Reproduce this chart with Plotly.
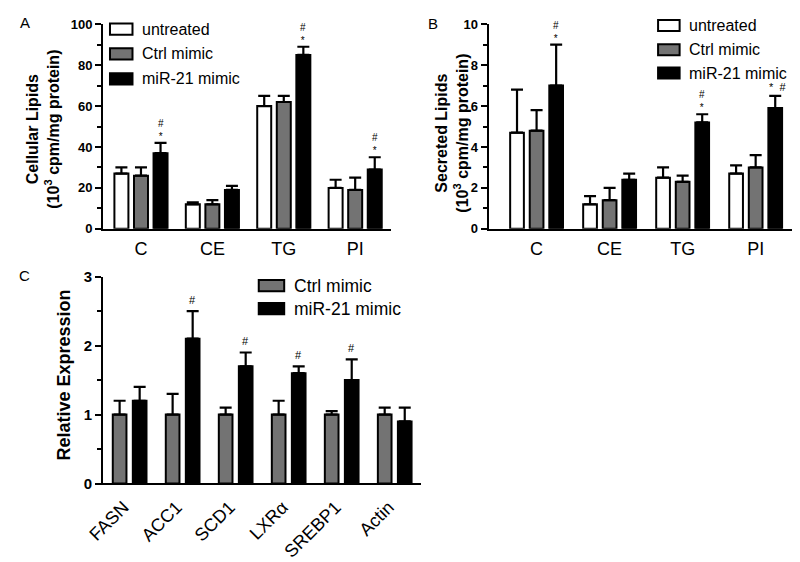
import plotly.graph_objects as go

W, H = 800, 562
FONT = "Liberation Sans"

# ---------------- data ----------------
lipid_classes = ["C", "CE", "TG", "PI"]
series_ab = ["untreated", "Ctrl mimic", "miR-21 mimic"]

cellular_untreated = [27, 12, 60, 20]
cellular_untreated_sem = [3, 1, 5, 4]
cellular_ctrl = [26, 12, 62, 19]
cellular_ctrl_sem = [4, 2, 3, 6]
cellular_mir21 = [37, 19, 85, 29]
cellular_mir21_sem = [5, 2, 4, 6]
cellular_sig = ["*#", "", "*#", "*#"]

secreted_untreated = [4.7, 1.2, 2.5, 2.7]
secreted_untreated_sem = [2.1, 0.4, 0.5, 0.4]
secreted_ctrl = [4.8, 1.4, 2.3, 3.0]
secreted_ctrl_sem = [1.0, 0.6, 0.3, 0.6]
secreted_mir21 = [7.0, 2.4, 5.2, 5.9]
secreted_mir21_sem = [2.0, 0.3, 0.4, 0.6]
secreted_sig = ["*#", "", "*#", "* #"]

genes = ["FASN", "ACC1", "SCD1", "LXRα", "SREBP1", "Actin"]
series_c = ["Ctrl mimic", "miR-21 mimic"]
expr_ctrl = [1.0, 1.0, 1.0, 1.0, 1.0, 1.0]
expr_ctrl_sem = [0.2, 0.3, 0.1, 0.2, 0.05, 0.1]
expr_mir21 = [1.2, 2.1, 1.7, 1.6, 1.5, 0.9]
expr_mir21_sem = [0.2, 0.4, 0.2, 0.1, 0.3, 0.2]
expr_sig = ["", "#", "#", "#", "#", ""]

# ---------------- style ----------------
COLORS = {"untreated": "white", "Ctrl mimic": "#737373", "miR-21 mimic": "black"}


def px(x):
    return x / W


def py(y):
    return 1 - y / H


fig = go.Figure()
annotations = []
shapes = []


def add_panel(idx, cats, names, vals, errs, slot, bw, sig):
    xa = "x" if idx == 1 else f"x{idx}"
    ya = "y" if idx == 1 else f"y{idx}"
    n = len(names)
    xs = list(range(len(cats)))
    tickpos = []
    for k, name in enumerate(names):
        c_off = (k - (n - 1) / 2) * slot
        fig.add_trace(go.Bar(
            x=xs, y=vals[k], name=name, xaxis=xa, yaxis=ya,
            offset=c_off - bw / 2, width=bw,
            marker=dict(color=COLORS[name], line=dict(color="black", width=2)),
            error_y=dict(type="data", symmetric=False, array=errs[k],
                         arrayminus=[0] * len(xs), color="black",
                         thickness=2.2, width=6),
            showlegend=False, hoverinfo="skip",
        ))
    for i in xs:
        for k in range(n):
            tickpos.append(i + (k - (n - 1) / 2) * slot)
    # significance marks over last series
    last = n - 1
    c_off = (last - (n - 1) / 2) * slot
    for i, s in enumerate(sig):
        if not s:
            continue
        top = vals[last][i] + errs[last][i]
        base = dict(xref=xa, yref=ya, x=i + c_off, y=top, showarrow=False,
                    xanchor="center", yanchor="bottom")
        if s == "*#":
            annotations.append({**base, "text": "#<br>*", "yshift": -1,
                                "font": dict(family=FONT, size=10, color="black")})
        elif s == "* #":
            annotations.append({**base, "text": "*\u00a0\u00a0#", "yshift": 1,
                                "xshift": 2,
                                "font": dict(family=FONT, size=11, color="black")})
        elif s == "#":
            annotations.append({**base, "text": "#", "yshift": 3,
                                "font": dict(family=FONT, size=11, color="black")})
    return tickpos


tick_a = add_panel(1, lipid_classes, series_ab,
                   [cellular_untreated, cellular_ctrl, cellular_mir21],
                   [cellular_untreated_sem, cellular_ctrl_sem, cellular_mir21_sem],
                   0.274, 0.196, cellular_sig)
tick_b = add_panel(2, lipid_classes, series_ab,
                   [secreted_untreated, secreted_ctrl, secreted_mir21],
                   [secreted_untreated_sem, secreted_ctrl_sem, secreted_mir21_sem],
                   0.268, 0.188, secreted_sig)
tick_c = add_panel(3, genes, series_c,
                   [expr_ctrl, expr_mir21],
                   [expr_ctrl_sem, expr_mir21_sem],
                   0.378, 0.258, expr_sig)

LINE_W = 2.3


def yaxis_style(domain, rng, dtick, minor_dtick, size):
    return dict(domain=domain, range=rng, showgrid=False, zeroline=False,
                showline=True, linecolor="black", linewidth=LINE_W,
                ticks="outside", ticklen=6, tickwidth=2, tickcolor="black",
                dtick=dtick, tick0=0,
                minor=dict(ticks="outside", ticklen=4, tickwidth=2,
                           tickcolor="black", dtick=minor_dtick, tick0=0),
                tickfont=dict(family=FONT, size=size, color="black", weight="bold"),
                fixedrange=True)


def xaxis_label_style(domain, rng, cats, anchor, size, angle=0, tlen=2, shift=0):
    return dict(domain=domain, range=rng, anchor=anchor, showgrid=False,
                zeroline=False, showline=True, linecolor="black",
                linewidth=LINE_W, ticks="outside", ticklen=tlen,
                tickcolor="rgba(0,0,0,0)", tickmode="array",
                tickvals=list(range(len(cats))), ticktext=cats,
                tickangle=angle, ticklabelshift=shift,
                tickfont=dict(family=FONT, size=size, color="black"),
                fixedrange=True)


def xaxis_tick_style(over, rng, anchor, vals):
    return dict(overlaying=over, range=rng, anchor=anchor, showgrid=False,
                zeroline=False, showline=False, ticks="outside", ticklen=7,
                tickwidth=2, tickcolor="black", tickmode="array",
                tickvals=vals, showticklabels=False, fixedrange=True)


dom_top = [py(226.7), py(15.7)]
dom_bot = [py(489.3), py(276)]
rng_a = [-0.53, 3.5]
rng_b = [-0.655, 3.5]
rng_c = [-0.5, 5.5]

fig.update_layout(
    width=W, height=H, autosize=False,
    margin=dict(l=0, r=0, t=0, b=0),
    paper_bgcolor="white", plot_bgcolor="white",
    barmode="overlay", showlegend=False,
    xaxis=xaxis_label_style([px(88), px(382)], rng_a, lipid_classes, "y", 18),
    yaxis=yaxis_style(dom_top, [0, 100], 20, 10, 13) | dict(anchor="x"),
    xaxis2=xaxis_label_style([px(482), px(792)], rng_b, lipid_classes, "y2", 18),
    yaxis2=yaxis_style(dom_top, [0, 10], 2, 1, 13) | dict(anchor="x2"),
    xaxis3=xaxis_label_style([px(88), px(413)], rng_c, genes, "y3", 18, -45, 4, -6),
    yaxis3=yaxis_style(dom_bot, [0, 3], 1, 0.5, 15) | dict(anchor="x3"),
    xaxis4=xaxis_tick_style("x", rng_a, "y", tick_a),
    xaxis5=xaxis_tick_style("x2", rng_b, "y2", tick_b),
    xaxis6=xaxis_tick_style("x3", rng_c, "y3", tick_c),
)

# y-axis titles
title_font = dict(family=FONT, size=16, color="black")
annotations.append(dict(xref="paper", yref="paper", x=px(27), y=py(124),
                        text="<b>Cellular Lipids</b><br><b>(10<sup>3</sup> cpm/mg protein)</b>",
                        textangle=-90, showarrow=False, font=title_font,
                        xanchor="center", yanchor="middle"))
annotations.append(dict(xref="paper", yref="paper", x=px(445), y=py(128),
                        text="<b>Secreted Lipids</b><br><b>(10<sup>3</sup> cpm/mg protein)</b>",
                        textangle=-90, showarrow=False, font=title_font,
                        xanchor="center", yanchor="middle"))
annotations.append(dict(xref="paper", yref="paper", x=px(48), y=py(377),
                        text="<b>Relative Expression</b>",
                        textangle=-90, showarrow=False,
                        font=dict(family=FONT, size=18, color="black"),
                        xanchor="center", yanchor="middle"))

# panel letters
for letter, (lx, ly) in {"A": (8, 14), "B": (425, 15), "C": (8, 275)}.items():
    annotations.append(dict(xref="paper", yref="paper", x=px(lx), y=py(ly),
                            text=letter, showarrow=False,
                            font=dict(family=FONT, size=15, color="black"),
                            xanchor="center", yanchor="middle"))


# legends
def add_legend(names, box_x0, box_x1, rows, text_x, size, box_h=11.5):
    for name, ry in zip(names, rows):
        shapes.append(dict(type="rect", xref="paper", yref="paper",
                           x0=px(box_x0), x1=px(box_x1),
                           y0=py(ry + box_h / 2), y1=py(ry - box_h / 2),
                           fillcolor=COLORS[name],
                           line=dict(color="black", width=2)))
        annotations.append(dict(xref="paper", yref="paper", x=px(text_x),
                                y=py(ry), text=name, showarrow=False,
                                xanchor="left", yanchor="middle",
                                font=dict(family=FONT, size=size, color="black")))


add_legend(series_ab, 95, 118, [20.8, 46.3, 72.0], 126, 16)
add_legend(series_ab, 655, 677, [17, 42, 66], 685, 16)
add_legend(series_c, 247, 273, [285.3, 309], 281, 17.5)

fig.update_layout(annotations=annotations, shapes=shapes)
fig.write_html("out.html", config={"displayModeBar": False},
               post_script="document.body.style.margin='0';"
                           "document.body.style.overflow='hidden';")
